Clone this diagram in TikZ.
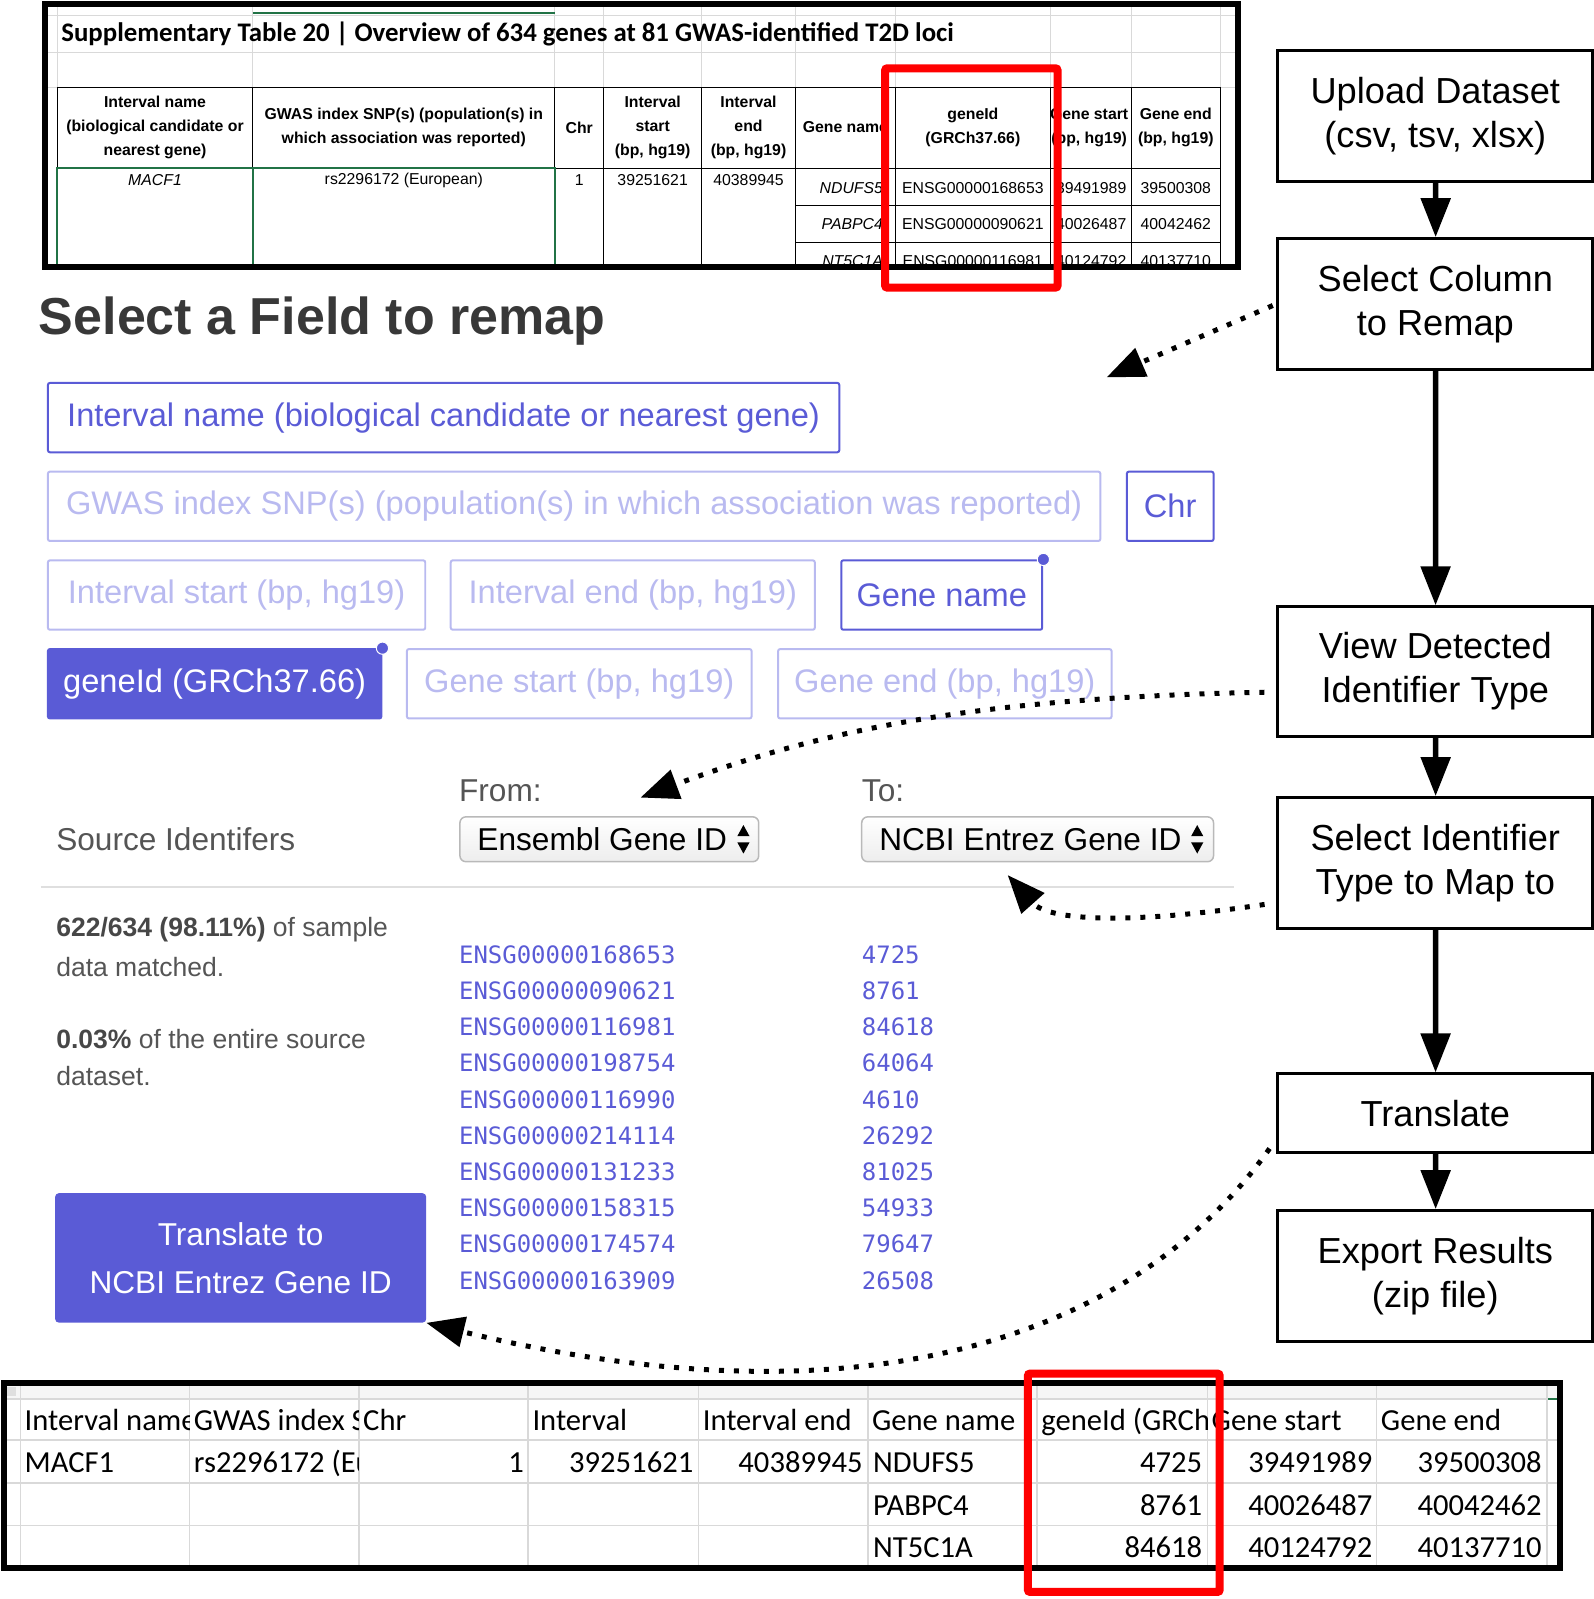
\documentclass[tikz,border=0pt]{standalone}
\usepackage{fontspec}
\setmainfont{Liberation Sans}
\newfontfamily\calibri{Carlito}
\newfontfamily\monofont{DejaVu Sans Mono}
\usetikzlibrary{arrows.meta,calc}
\definecolor{uiblue}{HTML}{5A5BD6}
\definecolor{uifade}{HTML}{B9BAF0}
\definecolor{uitext}{HTML}{555555}
\definecolor{xlgreen}{HTML}{217346}
\definecolor{xlgrid}{HTML}{D9D9D9}
\definecolor{hired}{HTML}{FF0000}
\tikzset{
  every node/.append style={inner sep=0pt},
  % flow chart on the right
  flowbox/.style={draw, line width=3pt, minimum width=309pt, align=center,
    font=\fontsize{35.5}{43}\selectfont},
  flowarr/.style={line width=5.5pt, -{Triangle[length=39pt,width=29pt]}},
  % dotted hints
  hintarr/.style={line width=5pt, dash pattern=on 5pt off 10pt,
    -{Triangle[length=38pt,width=30pt]}, shorten <=12pt},
  % spreadsheet
  thead/.style={align=center, font=\bfseries\fontsize{15.5}{24}\selectfont},
  tcell/.style={font=\fontsize{15.5}{18}\selectfont},
  xlcell/.style={font=\calibri\fontsize{30}{36}\selectfont},
  hibox/.style={draw=hired, line width=8pt, rounded corners=2pt},
  % web form
  fieldbtn/.style={draw=uiblue, line width=2pt, rounded corners=2pt, text=uiblue,
    minimum height=68pt, font=\fontsize{32}{38}\selectfont},
  fadebtn/.style={fieldbtn, draw=uifade, text=uifade},
  pickbtn/.style={fieldbtn, fill=uiblue, text=white},
  dropbox/.style={draw=gray!55, line width=1.5pt, rounded corners=6pt,
    top color=white, bottom color=gray!14, minimum height=44pt},
  formtxt/.style={text=uitext, font=\fontsize{31}{37}\selectfont},
  stattxt/.style={text=uitext, font=\fontsize{26}{30}\selectfont},
  monotxt/.style={text=uiblue, font=\monofont\fontsize{23.5}{28}\selectfont},
}

\begin{document}
\begin{tikzpicture}[x=1pt, y=-1pt, scale=1.02, transform shape]
    \useasboundingbox (0,0) rectangle (1563,1568);

    % Top spreadsheet
    \begin{scope}
        \clip (44,4) rectangle (1214,262);
        \foreach \y in {15,51,86} \draw[xlgrid, line width=1pt] (44,\y) -- (1214,\y);
        \foreach \x in {56,248,544,592,688,780,878,1030,1110,1197} \draw[xlgrid, line width=1pt] (\x,4) -- (\x,86);
        \draw[xlgreen, line width=2pt] (248,13) -- (544,13);
        \node[anchor=base west, font=\calibri\bfseries\fontsize{26.3}{30}\selectfont] (tabtitle) at (60,41)
            {Supplementary Table 20 | Overview of 634 genes at 81 GWAS-identified T2D loci};
        \draw[line width=1pt] (56,86) -- (1197,86) (56,165) -- (1197,165);
        \foreach \x in {56,248,544,592,688,780,878,1030,1110,1197} \draw[line width=1pt] (\x,86) -- (\x,165);
        \foreach \x in {592,688,780,878,1030,1110,1197} \draw[line width=1pt] (\x,165) -- (\x,262);
        \draw[line width=1pt] (780,202) -- (1197,202) (780,238) -- (1197,238);
        \draw[xlgreen, line width=2pt] (56,165) rectangle (248,270) (248,165) rectangle (544,270);
        \node[thead] (thA) at (152,125) {Interval name\\(biological candidate or\\nearest gene)};
        \node[thead] (thB) at (396,125) {GWAS index SNP(s) (population(s) in\\which association was reported)};
        \node[thead] (thC) at (568,125) {Chr};
        \node[thead] (thD) at (640,125) {Interval\\start\\(bp, hg19)};
        \node[thead] (thE) at (734,125) {Interval\\end\\(bp, hg19)};
        \node[thead, anchor=west] (thF) at (787,125) {Gene name};
        \node[thead] (thG) at (954,125) {geneId\\(GRCh37.66)};
        \node[thead] (thH) at (1068,125) {Gene start\\(bp, hg19)};
        \node[thead] (thI) at (1153,125) {Gene end\\(bp, hg19)};
        \node[tcell] (tdA) at (152,177) {\itshape MACF1};
        \node[tcell] (tdB) at (396,177) {rs2296172 (European)};
        \node[tcell] (tdC) at (568,177) {1};
        \node[tcell] (tdD) at (640,177) {39251621};
        \node[tcell] (tdE) at (734,177) {40389945};
        \foreach \y/\g/\e/\s/\f [count=\i] in {184/NDUFS5/ENSG00000168653/39491989/39500308,
            220/PABPC4/ENSG00000090621/40026487/40042462, 256/NT5C1A/ENSG00000116981/40124792/40137710} {
            \node[tcell, anchor=east] (tg\i) at (866,\y) {\itshape\g};
            \node[tcell] (te\i) at (954,\y) {\e};
            \node[tcell] (ts\i) at (1070,\y) {\s};
            \node[tcell] (tf\i) at (1153,\y) {\f};
        }
    \end{scope}
    \draw[line width=6pt] (44,4) rectangle (1214,262);
    \draw[hibox] (868,67) rectangle (1037,282);

    % Flow chart
    \node[flowbox, minimum height=128pt] (upload) at (1407.5,113.5) {Upload Dataset\\(csv, tsv, xlsx)};
    \node[flowbox, minimum height=128pt] (selcol) at (1407.5,298) {Select Column\\to Remap};
    \node[flowbox, minimum height=127pt] (viewdet) at (1407.5,658.5) {View Detected\\Identifier Type};
    \node[flowbox, minimum height=128pt] (selid) at (1407.5,846) {Select Identifier\\Type to Map to};
    \node[flowbox, minimum height=77pt] (transl) at (1407.5,1091.5) {Translate};
    \node[flowbox, minimum height=128pt] (export) at (1407.5,1251) {Export Results\\(zip file)};
    \draw[flowarr] (upload) -- (selcol);
    \draw[flowarr] (selcol) -- (viewdet);
    \draw[flowarr] (viewdet) -- (selid);
    \draw[flowarr] (selid) -- (transl);
    \draw[flowarr] (transl) -- (export);

    % Field picker
    \node[anchor=base west, text=black!78, font=\bfseries\fontsize{51}{60}\selectfont] (fieldtitle) at (38,328) {Select a Field to remap};
    \node[fieldbtn, minimum width=776pt] (fInt) at (435,409.5) {Interval name (biological candidate or nearest gene)};
    \node[fadebtn, minimum width=1032pt] (fGwas) at (563,496.5) {GWAS index SNP(s) (population(s) in which association was reported)};
    \node[fieldbtn, minimum width=85pt] (fChr) at (1147.5,496.5) {Chr};
    \node[fadebtn, minimum width=370pt] (fIstart) at (232,583.5) {Interval start (bp, hg19)};
    \node[fadebtn, minimum width=357pt] (fIend) at (620.5,583.5) {Interval end (bp, hg19)};
    \node[fieldbtn, minimum width=197pt] (fGname) at (923.5,583.5) {Gene name};
    \node[pickbtn, minimum width=327pt] (fGid) at (210.5,670.5) {geneId (GRCh37.66)};
    \node[fadebtn, minimum width=338pt] (fGstart) at (568,670.5) {Gene start (bp, hg19)};
    \node[fadebtn, minimum width=327pt] (fGend) at (926.5,670.5) {Gene end (bp, hg19)};
    \fill[uiblue, draw=white, line width=1pt] (fGname.north east) circle (6);
    \fill[uiblue, draw=white, line width=1pt] (fGid.north east) circle (6);

    % Identifier selection
    \node[formtxt, anchor=west] (lblsrc) at (55,823) {Source Identifers};
    \node[formtxt, anchor=west] (lblfrom) at (450,775) {From:};
    \node[formtxt, anchor=west] (lblto) at (845,775) {To:};
    \node[dropbox, minimum width=293pt] (ddFrom) at (597.5,823) {};
    \node[dropbox, minimum width=345pt] (ddTo) at (1017.5,823) {};
    \node[formtxt, text=black, anchor=west] (ddFromTxt) at (468,823) {Ensembl Gene ID};
    \node[formtxt, text=black, anchor=west] (ddToTxt) at (862,823) {NCBI Entrez Gene ID};
    \foreach \x in {729,1174} {
        \fill (\x-6,820) -- (\x+6,820) -- (\x,809) -- cycle;
        \fill (\x-6,826) -- (\x+6,826) -- (\x,837) -- cycle;
    }
    \draw[gray!25, line width=1.5pt] (40,870) -- (1210,870);

    % Match results
    \node[stattxt, anchor=west] (stat1) at (55,912) {\textcolor{black!72}{\bfseries 622/634 (98.11\%)} of sample};
    \node[stattxt, anchor=west] (stat2) at (55,948) {data matched.};
    \node[stattxt, anchor=west] (stat3) at (55,1019) {\textcolor{black!72}{\bfseries 0.03\%} of the entire source};
    \node[stattxt, anchor=west] (stat4) at (55,1055) {dataset.};
    \foreach \e/\n [count=\i] in {ENSG00000168653/4725, ENSG00000090621/8761, ENSG00000116981/84618,
        ENSG00000198754/64064, ENSG00000116990/4610, ENSG00000214114/26292, ENSG00000131233/81025,
        ENSG00000158315/54933, ENSG00000174574/79647, ENSG00000163909/26508} {
        \node[monotxt, anchor=west] (src\i) at (450,{900.5+35.5*\i}) {\e};
        \node[monotxt, anchor=west] (dst\i) at (845,{900.5+35.5*\i}) {\n};
    }
    \node[pickbtn, minimum width=362pt, minimum height=125pt, rounded corners=3pt, align=center,
        font=\fontsize{31}{47}\selectfont] (btnTransl) at (236,1233.5) {Translate to\\NCBI Entrez Gene ID};

    % Bottom spreadsheet
    \fill[gray!7] (7,1359) rectangle (1527,1372);
    \fill[gray!25] (7,1360) rectangle (16,1369);
    \foreach \y in {1372,1412,1454,1496} \draw[xlgrid, line width=1.5pt] (7,\y) -- (1527,\y);
    \foreach \x in {20,186,352,518,685,851,1017,1184,1350,1517} \draw[xlgrid, line width=1.5pt] (\x,1359) -- (\x,1535);
    \draw[xlgreen, line width=2pt] (1518,1372) -- (1527,1372);
    \foreach \l/\r/\t [count=\i] in {20/186/Interval name, 186/352/GWAS index S,
        352/518/Chr, 518/685/Interval, 685/851/Interval end, 851/1017/Gene name, 1017/1184/geneId (GRCh,
        1184/1350/Gene start, 1350/1517/Gene end} {
        \begin{scope}
            \clip (\l,1372) rectangle (\r,1412);
            \node[xlcell, anchor=base west] (xh\i) at (\l+4,1403) {\t};
        \end{scope}
    }
    \begin{scope}
        \clip (186,1412) rectangle (352,1454);
        \node[xlcell, anchor=base west] (xgwas) at (190,1444) {rs2296172 (Eu};
    \end{scope}
    \node[xlcell, anchor=base west] (xname) at (24,1444) {MACF1};
    \node[xlcell, anchor=base east] (xchr) at (514,1444) {1};
    \node[xlcell, anchor=base east] (xistart) at (680,1444) {39251621};
    \node[xlcell, anchor=base east] (xiend) at (846,1444) {40389945};
    \foreach \y/\g/\n/\s/\f [count=\i] in {1444/NDUFS5/4725/39491989/39500308,
        1486/PABPC4/8761/40026487/40042462, 1527/NT5C1A/84618/40124792/40137710} {
        \node[xlcell, anchor=base west] (xg\i) at (856,\y) {\g};
        \node[xlcell, anchor=base east] (xn\i) at (1179,\y) {\n};
        \node[xlcell, anchor=base east] (xs\i) at (1346,\y) {\s};
        \node[xlcell, anchor=base east] (xf\i) at (1512,\y) {\f};
    }
    \draw[line width=6pt] (4,1356) rectangle (1530,1538);
    \draw[hibox] (1008,1347) rectangle (1196,1561);

    % Dotted hints from the flow chart
    \coordinate (fieldtip) at (1085,370);
    \coordinate (fromtip) at (628,782);
    \coordinate (totip) at (988,858);
    \draw[hintarr, shorten <=4pt] (selcol.west) -- (fieldtip);
    \draw[hintarr] ([yshift=-20pt]viewdet.west) .. controls (960,684) and (808,715) .. (fromtip);
    \draw[hintarr] ([yshift=-39pt]selid.west) .. controls (1120,905) and (1030,905) .. (totip);
    \draw[hintarr] ([yshift=-25pt]transl.west) .. controls (1130,1290) and (880,1410) .. (btnTransl.south east);
\end{tikzpicture}
\end{document}
